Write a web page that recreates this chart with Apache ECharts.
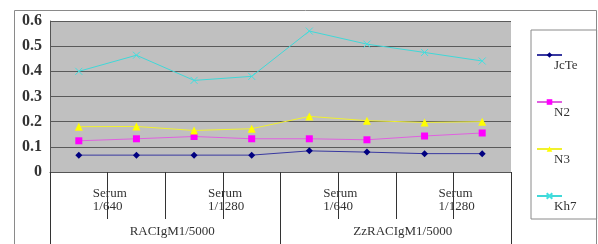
<!DOCTYPE html>
<html>
<head>
<meta charset="utf-8">
<script src="https://cdn.jsdelivr.net/npm/echarts@6/dist/echarts.min.js"></script>
<style>
  html, body { margin: 0; padding: 0; background: #fff; }
  #chart { width: 598px; height: 244px; }
</style>
</head>
<body>
<div id="chart"></div>
<script>
// 8 measuring points: 2 groups x 2 dilutions x 2 repeats
const points = ['1', '2', '3', '4', '5', '6', '7', '8'];
const dilutions = ['1/640', '1/1280'];
const groups = ['RACIgM1/5000', 'ZzRACIgM1/5000'];

const jcte = [0.067, 0.067, 0.067, 0.067, 0.084, 0.079, 0.073, 0.073];
const n2 = [0.124, 0.132, 0.141, 0.132, 0.132, 0.128, 0.143, 0.155];
const n3 = [0.180, 0.181, 0.165, 0.172, 0.221, 0.204, 0.197, 0.200];
const kh7 = [0.400, 0.464, 0.364, 0.380, 0.560, 0.508, 0.475, 0.441];

const yTicks = [0, 0.1, 0.2, 0.3, 0.4, 0.5, 0.6];

const serif = 'Liberation Serif';
const crossIcon = 'path://M0,0L10,10M10,0L0,10';

const chart = echarts.init(document.getElementById('chart'));

function lineSeries(name, data, color, symbol, size, lineColor) {
  return {
    name: name,
    type: 'line',
    data: data,
    symbol: symbol,
    symbolSize: size,
    showSymbol: true,
    lineStyle: { color: lineColor, width: 1 },
    itemStyle: symbol === crossIcon
      ? { color: color, borderColor: color, borderWidth: 1 }
      : { color: color },
    animation: false
  };
}

chart.setOption({
  backgroundColor: '#fff',
  animation: false,
  grid: { left: 50, top: 21, right: 87, bottom: 72, show: true, backgroundColor: '#c0c0c0', borderWidth: 0 },
  graphic: [{
    type: 'rect',
    shape: { x: 14.5, y: 10.5, width: 582, height: 250 },
    style: { fill: null, stroke: '#8a8a8a', lineWidth: 1 },
    silent: true
  }],
  legend: {
    orient: 'vertical',
    left: 531,
    top: 30,
    padding: [3, 19, 1, 5],
    borderColor: '#8a8a8a',
    borderWidth: 1,
    itemWidth: 25,
    itemHeight: 7,
    itemGap: 3,
    formatter: function (name) { return '\n' + name; },
    textStyle: { fontFamily: serif, fontSize: 13, lineHeight: 22, color: '#333', padding: [0, 0, 0, -13] },
    data: ['JcTe', 'N2', 'N3', 'Kh7']
  },
  xAxis: [{
    type: 'category',
    data: points,
    boundaryGap: true,
    axisLine: { show: true, lineStyle: { color: '#555', width: 1 } },
    axisTick: { show: true, interval: 0, length: 47, lineStyle: { color: '#333' } },
    axisLabel: {
      interval: function (i) { return i % 2 === 0; },
      formatter: function (v, i) { return 'Serum\n' + dilutions[Math.floor(i / 2) % 2]; },
      align: 'left',
      padding: [0, 0, 0, 14],
      margin: 15,
      lineHeight: 13,
      fontFamily: serif,
      fontSize: 13,
      color: '#333'
    }
  }, {
    type: 'category',
    data: groups,
    position: 'bottom',
    boundaryGap: true,
    axisLine: { show: false },
    axisTick: { show: true, interval: 0, length: 80, lineStyle: { color: '#333' } },
    axisLabel: {
      interval: 0,
      margin: 53,
      padding: [0, 0, 0, 14],
      fontFamily: serif,
      fontSize: 13,
      color: '#333'
    }
  }],
  yAxis: {
    type: 'value',
    min: yTicks[0],
    max: yTicks[yTicks.length - 1],
    interval: 0.1,
    axisLine: { show: true, lineStyle: { color: '#555', width: 1 } },
    axisTick: { show: false },
    splitLine: { show: true, lineStyle: { color: '#5a5a5a', width: 1 } },
    axisLabel: {
      margin: 8,
      fontFamily: serif,
      fontSize: 16,
      fontWeight: 'bold',
      color: '#333',
      formatter: function (v) { return String(Math.round(v * 10) / 10); }
    }
  },
  series: [
    lineSeries('JcTe', jcte, '#000080', 'diamond', 7, '#3838a0'),
    lineSeries('N2', n2, '#ff00ff', 'rect', 7, '#e060e0'),
    lineSeries('N3', n3, '#ffff00', 'triangle', 8, '#f0f030'),
    lineSeries('Kh7', kh7, '#40e0e0', crossIcon, 7, '#40d8d8')
  ]
});
</script>
</body>
</html>
